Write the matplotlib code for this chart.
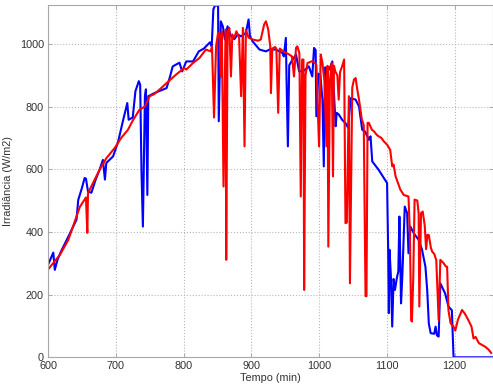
import matplotlib
matplotlib.use("Agg")
import matplotlib.pyplot as plt

# Blue series (time in minutes, irradiance W/m2)
time_blue = [600, 604, 607.8, 610, 614, 619, 630, 642, 644.6, 650, 654, 656, 659, 664, 670, 676, 681, 684, 686,
             696, 703, 711, 717, 719, 725, 729, 734, 736, 738, 740, 742, 743, 744.5, 746.6, 748, 757, 765, 775,
             780, 784, 790, 794, 798, 804, 814, 822.5, 830, 836, 839, 841.6, 844, 847, 851, 852, 855, 858, 861,
             865, 870, 875, 880, 885, 892, 896, 898, 902, 912, 921.6, 927, 936, 946, 948, 951, 952, 954, 956,
             961, 966, 970.6, 978, 985, 990, 992.6, 995, 996, 999, 1002, 1005, 1007, 1009, 1015, 1019.6, 1024.5,
             1026, 1029, 1034, 1039, 1043, 1046.6, 1054, 1059, 1063.7, 1068, 1073.5, 1076, 1078.5, 1088, 1100.4,
             1102, 1103, 1104, 1106, 1108, 1110, 1112, 1115, 1117, 1118.6, 1120, 1121, 1123, 1126.5, 1130, 1132,
             1134.8, 1140, 1147, 1152, 1157, 1159.6, 1162, 1164.7, 1170, 1172, 1174, 1176.5, 1179, 1186, 1191,
             1196, 1198.5, 1256]
irr_blue = [295, 315, 334, 279, 311, 337, 385, 439, 502, 540, 572, 570, 529, 525, 565, 598, 630, 567, 620,
            641, 684, 758, 811, 758, 765, 849, 881, 870, 589, 417, 700, 833, 855, 518, 833, 843, 850, 859,
            895, 928, 935, 940, 912, 944, 944, 976, 985, 998, 1005, 992, 1110, 1125, 1120, 753, 1072, 1056, 1014,
            1056, 1025, 1015, 1030, 1024, 1035, 1078, 1025, 1008, 982, 976, 982, 982, 971, 960, 1019, 890, 673, 932,
            950, 966, 912, 915, 928, 896, 987, 980, 769, 905, 900, 822, 609, 925, 918, 944, 737,
            780, 775, 758, 747, 732, 827, 822, 800, 726, 720, 694, 705, 625, 598, 556,
            343, 141, 343, 260, 98, 250, 215, 255, 274, 449, 300, 172, 264, 481, 460, 332,
            417, 395, 375, 343, 289, 215, 108, 77, 75, 98, 70, 66, 236, 204, 162,
            150, 0, 0]

# Red series
time_red = [600, 617.6, 630, 644, 647, 656, 658, 659, 665, 676, 686, 698.5, 708, 718, 725, 735, 743, 750, 757,
            765, 775, 789, 801, 804, 814, 823.5, 833, 840, 842, 845, 848, 851, 853, 855, 856.5, 859, 862, 863,
            865, 867.6, 870, 872, 875, 878, 882, 885, 887.6, 890, 892, 896, 902, 910, 914, 919, 921.6, 925, 928,
            929, 931, 935, 937, 939.7, 942, 948, 956, 960, 963, 966, 968, 971, 973, 975, 977, 978, 980, 983, 990,
            996, 1000, 1002.5, 1005, 1008, 1011, 1012.5, 1013.7, 1016, 1018.7, 1020.6, 1022, 1024, 1027, 1029,
            1031, 1034, 1037, 1039, 1041, 1044, 1045.6, 1047, 1049, 1051.5, 1054, 1056, 1059, 1063, 1066, 1068.6,
            1070, 1071.6, 1073.5, 1078, 1081, 1085, 1088, 1092, 1095.6, 1100.5, 1105, 1108, 1110, 1113, 1120,
            1125, 1132, 1134, 1136, 1137, 1139, 1141, 1145, 1147, 1148, 1150.5, 1153, 1156, 1158, 1160, 1162,
            1165, 1167, 1170, 1173, 1176.5, 1179, 1184, 1187, 1189, 1191, 1194, 1196, 1198, 1201, 1205, 1211,
            1215, 1220, 1225, 1228, 1231, 1236, 1240, 1245, 1250, 1254]
irr_red = [280, 327, 375, 461, 480, 510, 397, 524, 550, 598, 635, 668, 700, 726, 755, 790, 800, 833, 840,
           855, 875, 902, 923, 918, 939, 955, 982, 976, 992, 765, 992, 1035, 1030, 896, 1040, 545, 1046, 311,
           1035, 1051, 896, 1030, 1020, 1040, 1020, 833, 1051, 673, 1045, 1020, 1014, 1010, 1014, 1062, 1072, 1046, 992,
           843, 985, 990, 985, 780, 985, 975, 966, 960, 896, 987, 992, 970, 513, 950, 950, 215, 900, 939, 945,
           935, 673, 966, 940, 880, 673, 930, 353, 880, 939, 577, 930, 912, 900, 822,
           910, 928, 950, 428, 430, 833, 236, 500, 860, 886, 891, 860, 822, 760, 740, 195,
           195, 748, 748, 726, 721, 710, 705, 700, 689, 678, 662, 609, 615, 577, 535,
           518, 513, 400, 119, 114, 250, 503, 500, 460, 162, 460, 465, 420, 345, 391, 390,
           350, 337, 330, 310, 119, 311, 300, 290, 289, 150, 110, 103, 100, 85, 120, 151,
           140, 120, 98, 60, 65, 45, 40, 34, 25, 14]

x_ticks = [600, 700, 800, 900, 1000, 1100, 1200]
y_ticks = [0, 200, 400, 600, 800, 1000]

plt.rcParams['font.family'] = ['Liberation Sans', 'DejaVu Sans']
fig = plt.figure(figsize=(4.93, 3.91), dpi=100)
ax = fig.add_axes([0.0974, 0.0862, 0.9016, 0.9018])

ax.plot(time_blue, irr_blue, color='#0000ff', lw=1.5)
ax.plot(time_red, irr_red, color='#ff0000', lw=1.5)

ax.set_xlim(600, 1256)
ax.set_ylim(0, 1125)
ax.set_xticks(x_ticks)
ax.set_yticks(y_ticks)
ax.grid(True, linestyle=':', color='#b8b8b8', linewidth=0.8)
ax.tick_params(direction='in', length=3, width=0.6, colors='#a0a0a0', labelcolor='#333333',
               labelsize=7.8, top=True, right=True, pad=3)
for s in ax.spines.values():
    s.set_color('#a8a8a8')
    s.set_linewidth(0.8)

ax.set_xlabel('Tempo (min)', fontsize=7.8, color='#333333', labelpad=1)
ax.set_ylabel('Irradiância (W/m2)', fontsize=7.8, color='#333333')
ax.yaxis.set_label_coords(-0.078, 0.5)

fig.savefig('out.png', dpi=100)
